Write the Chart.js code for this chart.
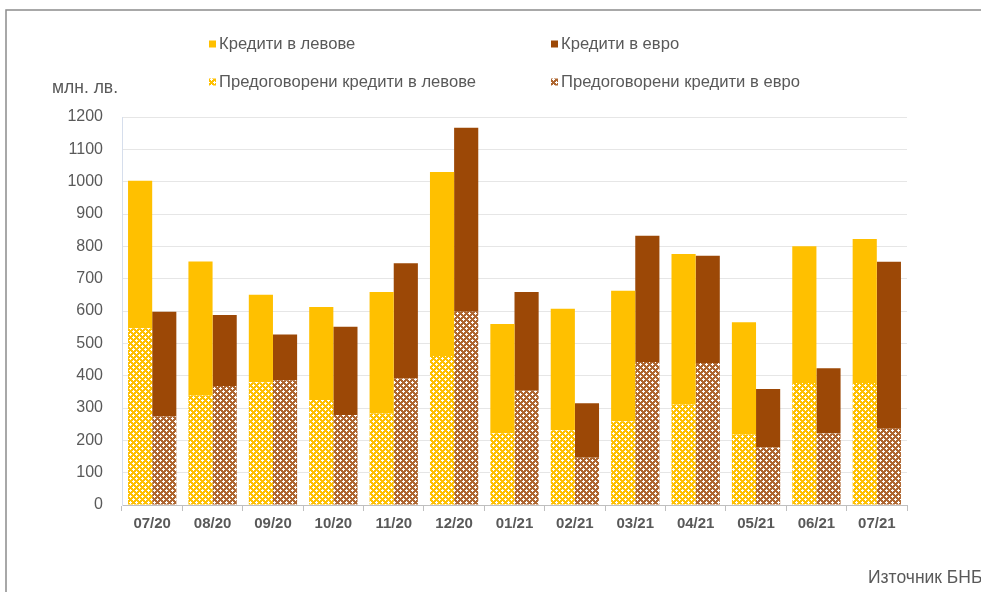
<!DOCTYPE html>
<html><head><meta charset="utf-8">
<script src="https://cdn.jsdelivr.net/npm/chart.js@4"></script>
<style>html,body{margin:0;padding:0;background:#fff;}#wrap{width:981px;height:592px;position:relative;}</style>
</head><body><div id="wrap"><canvas id="c" width="981" height="592"></canvas></div>
<script>
const categories = ['07/20','08/20','09/20','10/20','11/20','12/20','01/21','02/21','03/21','04/21','05/21','06/21','07/21'];
const levPre  = [547, 339, 380, 325, 283, 461, 222, 231, 259, 311, 218, 377, 377];
const levNew  = [456, 414, 270, 287, 376, 569, 338, 376, 404, 465, 347, 423, 446];
const euroPre = [274, 368, 386, 278, 391, 598, 353, 146, 442, 439, 178, 221, 236];
const euroNew = [324, 220, 141, 273, 357, 569, 306, 169, 391, 332, 181, 202, 516];
const yTicks = [0,100,200,300,400,500,600,700,800,900,1000,1100,1200];

const LEV = '#FFC000', EURO = '#9C4806';
function makePattern(color){
  const t = document.createElement('canvas'); t.width = 6; t.height = 6;
  const g = t.getContext('2d');
  g.fillStyle = color; g.fillRect(0,0,6,6);
  g.fillStyle = '#ffffff';
  const plus = (cx,cy)=>[[0,0],[1,0],[-1,0],[0,1],[0,-1]].forEach(d=>g.fillRect((cx+d[0]+6)%6,(cy+d[1]+6)%6,1,1));
  plus(1,1); plus(4,4);
  return document.getElementById('c').getContext('2d').createPattern(t,'repeat');
}
const levPat = makePattern('#FFC000'), euroPat = makePattern('#AE6630');

const legendOrder = [1,3,0,2];
const extras = {
  id:'extras',
  beforeDraw(chart){
    const ctx = chart.ctx; ctx.save();
    ctx.strokeStyle = '#8c8c8c'; ctx.lineWidth = 1.5;
    ctx.strokeRect(6,10,1100,700);
    ctx.restore();
  },
  afterDraw(chart){
    const ctx = chart.ctx; ctx.save();
    const ds = chart.data.datasets;
    const pos = [[209,44],[551,44],[209,82],[551,82]];
    ctx.font = '16.6px "Liberation Sans", Arial, sans-serif';
    ctx.textBaseline = 'middle';
    legendOrder.forEach((di,i)=>{
      const d = ds[di]; const [x,y] = pos[i];
      ctx.fillStyle = d.backgroundColor;
      ctx.fillRect(x, y-3.5, 7, 7);
      ctx.fillStyle = '#595959';
      ctx.fillText(d.label, x+10, y);
    });
    ctx.font = '17.5px "Liberation Sans", Arial, sans-serif';
    ctx.fillStyle = '#595959';
    ctx.fillText('млн. лв.', 52, 88);
    ctx.fillText('Източник БНБ', 868, 578);
    ctx.restore();
  }
};

new Chart(document.getElementById('c'), {
  type:'bar',
  data:{
    labels: categories,
    datasets:[
      {label:'Предоговорени кредити в левове', data: levPre, stack:'lev', backgroundColor: levPat},
      {label:'Кредити в левове', data: levNew, stack:'lev', backgroundColor: LEV},
      {label:'Предоговорени кредити в евро', data: euroPre, stack:'euro', backgroundColor: euroPat},
      {label:'Кредити в евро', data: euroNew, stack:'euro', backgroundColor: EURO}
    ]
  },
  options:{
    responsive:false, animation:false,
    layout:{padding:{left:0,right:74,top:117,bottom:56}},
    plugins:{legend:{display:false}, tooltip:{enabled:false}},
    datasets:{bar:{categoryPercentage:0.8, barPercentage:1.0, borderWidth:0}},
    scales:{
      x:{stacked:true,
        grid:{display:true, drawOnChartArea:false, drawTicks:true, tickLength:6, offset:true, color:'#BFBFBF'},
        border:{color:'#BFBFBF', width:1},
        ticks:{color:'#595959', font:{family:'"Liberation Sans", Arial, sans-serif', size:15, weight:'bold'}, padding:4, maxRotation:0},
        afterFit(s){ s.height = 31; }
      },
      y:{stacked:true, min:0, max:1200,
        afterBuildTicks(s){ s.ticks = yTicks.map(v=>({value:v})); },
        grid:{color:'#E6E6E6', drawTicks:false, lineWidth:1},
        border:{color:'#D6DEEC', width:1},
        ticks:{color:'#595959', font:{family:'"Liberation Sans", Arial, sans-serif', size:16}, padding:19,
          callback:(v)=>String(v)},
        afterFit(s){ s.width = 122; }
      }
    }
  },
  plugins:[extras]
});
</script></body></html>
